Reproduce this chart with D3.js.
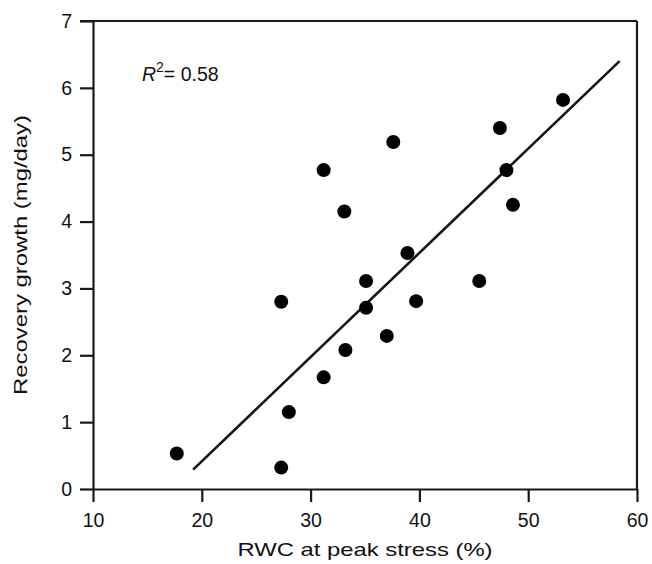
<!DOCTYPE html>
<html>
<head>
<meta charset="utf-8">
<script src="https://cdn.jsdelivr.net/npm/d3@7"></script>
<style>
    body { margin: 0; background: #fff; }
    text { font-family: "Liberation Sans", Arial, Helvetica, sans-serif; fill: #111; }
    .axis path, .axis line { stroke: #1a1a1a; stroke-width: 2.2; }
</style>
</head>
<body>
<div class="svgShaper"></div>
<script>
// RWC at peak stress (%) for each plant
var rwc = [17.7, 27.3, 27.3, 28.0, 31.2, 33.2, 35.1, 35.1, 39.7, 37.0,
           45.5, 31.2, 37.6, 33.1, 38.9, 47.4, 48.0, 48.6, 53.2];

// recovery growth (mg/day) for each plant
var growth = [0.53, 2.80, 0.32, 1.15, 1.67, 2.08, 2.71, 3.11, 2.81, 2.29,
              3.11, 4.77, 5.19, 4.15, 3.53, 5.40, 4.77, 4.25, 5.82];

// ends of the fitted regression line
var fitX = [19.2, 58.4];
var fitY = [0.29, 6.40];

// tick labels
var xTicks = [10, 20, 30, 40, 50, 60];
var yTicks = [0, 1, 2, 3, 4, 5, 6, 7];

var rSquared = "0.58";

// graph dimensions
var margin = {top: 21, right: 15, bottom: 75, left: 93},
    width = 652 - margin.left - margin.right,
    height = 564 - margin.top - margin.bottom;

var svg = d3.select(".svgShaper")
            .append("svg")
            .attr("width", 652)
            .attr("height", 564);

var g = svg.append("g")
           .attr("transform", "translate(" + margin.left + "," + margin.top + ")");

// scales
var x = d3.scaleLinear()
          .domain([10, 60])
          .range([0, width]);

var y = d3.scaleLinear()
          .domain([0, 7])
          .range([height, 0]);

// top and right frame lines
g.append("line")
 .attr("x1", x(10) - 13).attr("x2", x(60))
 .attr("y1", y(7)).attr("y2", y(7))
 .attr("stroke", "#1a1a1a").attr("stroke-width", 2.2);

g.append("line")
 .attr("x1", x(60)).attr("x2", x(60))
 .attr("y1", y(7)).attr("y2", y(0))
 .attr("stroke", "#1a1a1a").attr("stroke-width", 2.2);

// axes
var xAxis = g.append("g")
 .attr("class", "axis")
 .attr("transform", "translate(0," + height + ")")
 .call(d3.axisBottom(x).tickValues(xTicks).tickFormat(d3.format("d"))
         .tickSize(13).tickSizeOuter(0).tickPadding(11));

var yAxis = g.append("g")
 .attr("class", "axis")
 .call(d3.axisLeft(y).tickValues(yTicks).tickFormat(d3.format("d"))
         .tickSize(13).tickSizeOuter(0).tickPadding(8));

// bigger tick labels
g.selectAll(".axis text")
 .style("font-size", "19.5px")
 .style("font-family", "'Liberation Sans', Arial, sans-serif");

// regression line
var line = d3.line()
             .x(function(d) { return x(d[0]); })
             .y(function(d) { return y(d[1]); });

g.append("path")
 .attr("d", line(d3.zip(fitX, fitY)))
 .attr("fill", "none")
 .attr("stroke", "#151515")
 .attr("stroke-width", 2.6);

// data points
g.selectAll(".dot")
 .data(d3.zip(rwc, growth))
 .enter()
 .append("circle")
 .attr("class", "dot")
 .attr("cx", function(d) { return x(d[0]); })
 .attr("cy", function(d) { return y(d[1]); })
 .attr("r", 7)
 .attr("fill", "#000");

// R squared label
var r2 = g.append("text")
          .attr("x", x(14.5))
          .attr("y", y(6) - 7)
          .style("font-size", "19.5px");
r2.append("tspan").style("font-style", "italic").text("R");
r2.append("tspan").attr("dy", -9).style("font-size", "14px").text("2");
r2.append("tspan").attr("dy", 9).text("= " + rSquared);

// axis titles
svg.append("text")
   .attr("x", margin.left + width / 2)
   .attr("y", 556)
   .attr("text-anchor", "middle")
   .attr("textLength", 255)
   .attr("lengthAdjust", "spacingAndGlyphs")
   .style("font-size", "19px")
   .text("RWC at peak stress (%)");

svg.append("text")
   .attr("transform", "translate(27," + (margin.top + height / 2) + ") rotate(-90)")
   .attr("text-anchor", "middle")
   .attr("textLength", 280)
   .attr("lengthAdjust", "spacingAndGlyphs")
   .style("font-size", "19px")
   .text("Recovery growth (mg/day)");
</script>
</body>
</html>
